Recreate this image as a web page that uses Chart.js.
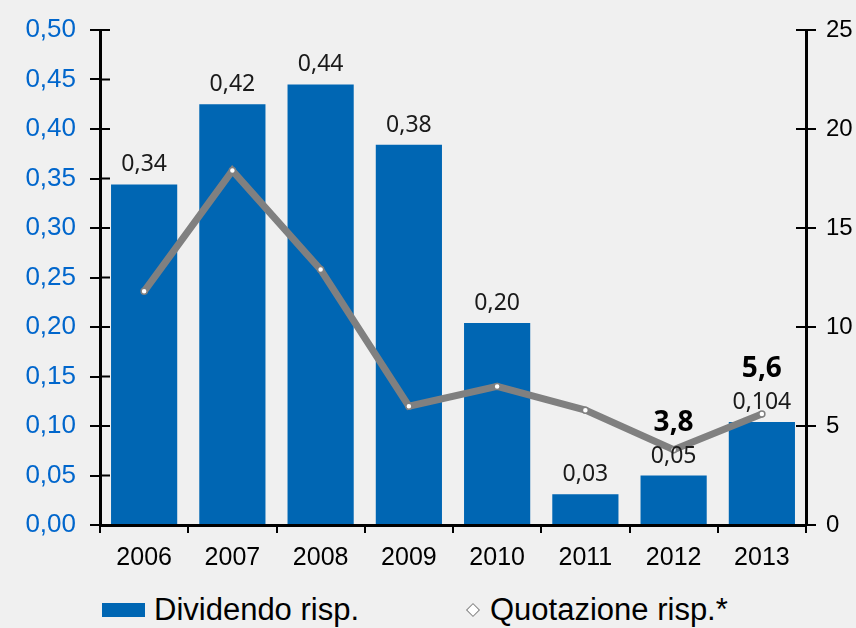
<!DOCTYPE html>
<html>
<head>
<meta charset="utf-8">
<script src="https://cdn.jsdelivr.net/npm/chart.js@4.4.1/dist/chart.umd.min.js"></script>
<style>
  html, body { margin: 0; padding: 0; background: #f0f0f0; }
  #wrap { position: relative; width: 856px; height: 628px; overflow: hidden; }
  #box { position: absolute; left: 0; top: 0; width: 856px; height: 590px; }
  #legend { position: absolute; left: 0; top: 590px; width: 856px; height: 38px;
    font-family: "Liberation Sans", Arial, sans-serif; font-size: 31px; color: #000; }
  .item { position: absolute; top: 0; height: 38px; line-height: 40px; white-space: nowrap; }
  .swatch { display: inline-block; vertical-align: middle; position: relative; top: -2px; }
</style>
</head>
<body>
<div id="wrap">
  <div id="box"><canvas id="chart"></canvas></div>
  <div id="legend"></div>
</div>
<script>
const years = ['2006', '2007', '2008', '2009', '2010', '2011', '2012', '2013'];
const dividend = [0.344, 0.425, 0.445, 0.384, 0.204, 0.031, 0.05, 0.104];
const dividendLabels = ['0,34', '0,42', '0,44', '0,38', '0,20', '0,03', '0,05', '0,104'];
const quotation = [11.8, 17.9, 12.9, 6.0, 7.0, 5.8, 3.8, 5.6];
const quotationLabels = ['', '', '', '', '', '', '3,8', '5,6'];
const leftTicks = [0, 0.05, 0.1, 0.15, 0.2, 0.25, 0.3, 0.35, 0.4, 0.45, 0.5];
const rightTicks = [0, 5, 10, 15, 20, 25];

const BLUE = '#0066b3';
const GREY = '#808080';
const AXIS_FONT = '"Liberation Sans", Arial, sans-serif';
const LABEL_FONT = '"Noto Sans", "Open Sans", sans-serif';

// inner half of the crossing tick marks plus the value labels
const extras = {
    id: 'extras',
    afterDraw(chart) {
        const { ctx, scales } = chart;
        ctx.save();
        ctx.strokeStyle = '#000';
        ctx.lineWidth = 2;
        [scales.y, scales.y2].forEach(s => {
            const x = s.position === 'left' ? s.right : s.left;
            const dir = s.position === 'left' ? 1 : -1;
            s.ticks.forEach(t => {
                const y = s.getPixelForValue(t.value);
                ctx.beginPath();
                ctx.moveTo(x, y);
                ctx.lineTo(x + dir * 10, y);
                ctx.stroke();
            });
        });

        const pts = chart.getDatasetMeta(0).data;
        const bars = chart.getDatasetMeta(1).data;
        ctx.textAlign = 'center';
        ctx.textBaseline = 'alphabetic';
        ctx.fillStyle = '#1a1a1a';
        ctx.font = '23px ' + LABEL_FONT;
        const labelTops = [];
        bars.forEach((b, i) => {
            const yb = b.y - 13;
            ctx.fillText(dividendLabels[i], b.x, yb);
            labelTops.push(yb - 17);
        });
        ctx.font = 'bold 28px ' + LABEL_FONT;
        ctx.fillStyle = '#000';
        pts.forEach((p, i) => {
            if (!quotationLabels[i]) return;
            let yb = p.y - 16;
            if (labelTops[i] < p.y) yb = Math.min(yb, labelTops[i] - 15);
            ctx.fillText(quotationLabels[i], p.x, yb);
        });
        ctx.restore();
    }
};

const axisBase = {
    grid: { drawOnChartArea: false, drawTicks: true, tickLength: 10, color: '#000', lineWidth: 2 },
    border: { color: '#000', width: 3 }
};

const chart = new Chart(document.getElementById('chart'), {
    data: {
        labels: years,
        datasets: [
            {
                type: 'line',
                label: 'Quotazione risp.*',
                data: quotation,
                yAxisID: 'y2',
                borderColor: GREY,
                borderWidth: 7,
                pointRadius: 3,
                pointBackgroundColor: '#fff',
                pointBorderColor: GREY,
                pointBorderWidth: 1.5,
                tension: 0,
                order: 0
            },
            {
                type: 'bar',
                label: 'Dividendo risp.',
                data: dividend,
                yAxisID: 'y',
                backgroundColor: BLUE,
                barPercentage: 0.75,
                categoryPercentage: 1,
                order: 1
            }
        ]
    },
    options: {
        responsive: true,
        maintainAspectRatio: false,
        animation: false,
        layout: { padding: { top: 30, left: 0, right: 0, bottom: 0 } },
        plugins: { legend: { display: false }, tooltip: { enabled: false } },
        scales: {
            x: {
                grid: { offset: true, drawOnChartArea: false, tickLength: 8, color: '#000', lineWidth: 2 },
                border: { color: '#000', width: 3 },
                ticks: { color: '#000', font: { family: AXIS_FONT, size: 25 }, padding: 10 },
                afterFit: s => { s.height = 65; }
            },
            y: {
                ...axisBase,
                position: 'left',
                min: 0, max: 0.5,
                afterBuildTicks: s => { s.ticks = leftTicks.map(v => ({ value: v })); },
                ticks: {
                    color: '#0066cc', padding: 14,
                    font: { family: AXIS_FONT, size: 26 },
                    callback: v => v.toFixed(2).replace('.', ',')
                },
                afterFit: s => { s.width = 100; }
            },
            y2: {
                ...axisBase,
                position: 'right',
                min: 0, max: 25,
                afterBuildTicks: s => { s.ticks = rightTicks.map(v => ({ value: v })); },
                ticks: { color: '#000', padding: 10, font: { family: AXIS_FONT, size: 24 } },
                afterFit: s => { s.width = 50; }
            }
        }
    },
    plugins: [extras]
});

// legend as html, from the chart's datasets
const legendDiv = document.getElementById('legend');
const legendPos = [{ left: 102 }, { left: 466 }];
[chart.data.datasets[1], chart.data.datasets[0]].forEach((ds, i) => {
    const item = document.createElement('div');
    item.className = 'item';
    item.style.left = legendPos[i].left + 'px';
    let sw;
    if (ds.type === 'bar') {
        sw = `<span class="swatch" style="width:43px;height:14px;background:${ds.backgroundColor};margin-right:9px;"></span>`;
    } else {
        sw = `<span class="swatch" style="width:8px;height:8px;border:1.5px solid ${ds.borderColor};background:#fff;transform:rotate(45deg);margin:0 12px 0 2px;"></span>`;
    }
    item.innerHTML = sw + `<span>${ds.label}</span>`;
    legendDiv.appendChild(item);
});
</script>
</body>
</html>
